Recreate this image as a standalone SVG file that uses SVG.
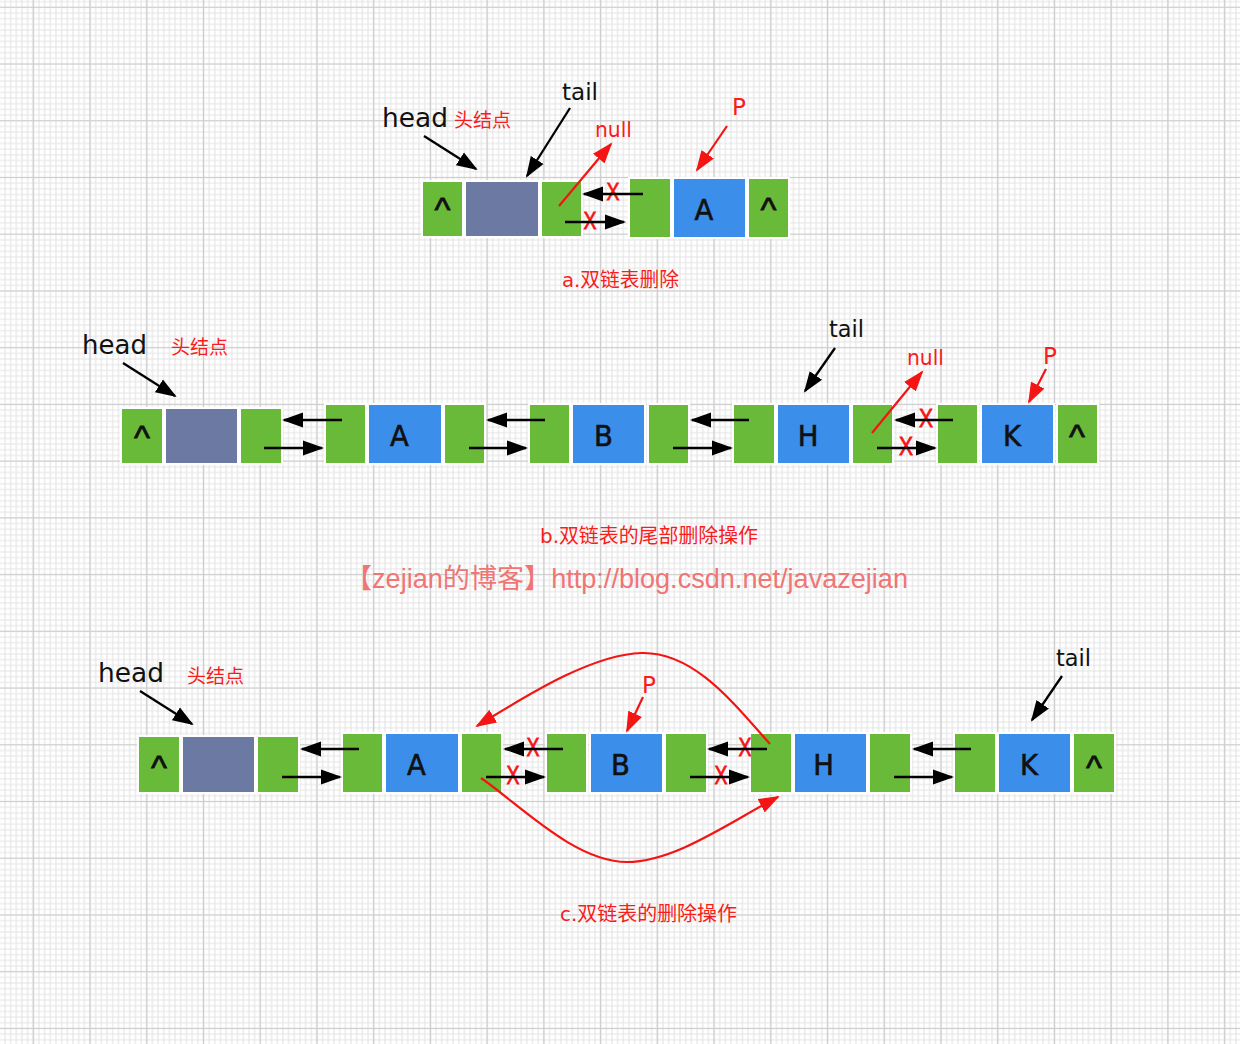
<svg xmlns="http://www.w3.org/2000/svg" width="1240" height="1044" viewBox="0 0 1240 1044">
<defs>
<pattern id="minor" patternUnits="userSpaceOnUse" x="30.46" y="4.46" width="5.673" height="5.673"><path d="M2.836 0V5.673M0 2.836H5.673" stroke="#e4e4e4" stroke-width="1.1" fill="none"/></pattern>
<pattern id="major" patternUnits="userSpaceOnUse" x="4.935" y="-21.065" width="56.73" height="56.73"><path d="M28.365 0V56.73M0 28.365H56.73" stroke="#cdcdcd" stroke-width="1.2" fill="none"/></pattern>
<marker id="ab" markerUnits="userSpaceOnUse" viewBox="0 0 22 16" markerWidth="22" markerHeight="16" refX="19" refY="8" orient="auto"><path d="M0,0.5 L21,8 L0,15.5 z" fill="#000"/></marker>
<marker id="ar" markerUnits="userSpaceOnUse" viewBox="0 0 22 16" markerWidth="22" markerHeight="16" refX="19" refY="8" orient="auto"><path d="M0,0.5 L21,8 L0,15.5 z" fill="#f41414"/></marker>
<style>
.g{fill:#6aba3a;stroke:#fff;stroke-width:2}
.b{fill:#3b8ee9;stroke:#fff;stroke-width:2}
.h{fill:#6c7aa3;stroke:#fff;stroke-width:2}
.t{font-family:"DejaVu Sans","Noto Sans CJK SC",sans-serif;fill:#111}
.red{fill:#f81c1c}
.cl{font-family:"DejaVu Sans",sans-serif;font-size:27.5px;fill:#111;stroke:#111;stroke-width:0.6;text-anchor:middle}
.ct{font-family:"Liberation Sans",sans-serif;font-size:34px;fill:#111;stroke:#111;stroke-width:0.8;text-anchor:middle}
.x{font-family:"Liberation Sans",sans-serif;fill:#f41414;stroke:#f41414;stroke-width:0.8;text-anchor:middle}
.ka{fill:none;stroke:#000;stroke-width:2.3;marker-end:url(#ab)}
.ra{fill:none;stroke:#f41414;stroke-width:2.2;marker-end:url(#ar)}
.cap{font-family:"DejaVu Sans","Noto Sans CJK SC",sans-serif;font-size:20px;fill:#f81c1c}
</style>
</defs>
<rect x="0" y="0" width="1240" height="1044" fill="#fff"/>
<rect x="0" y="0" width="1240" height="1044" fill="url(#minor)"/>
<rect x="0" y="0" width="1240" height="1044" fill="url(#major)"/>

<!-- Section a -->
<g id="a-head">
<rect class="g" x="422" y="181" width="41" height="56"/>
<rect class="h" x="465" y="181" width="74" height="56"/>
<rect class="g" x="541" y="181" width="41" height="56"/>
<text class="ct" x="442.5" y="221">^</text>
</g>
<g id="a-A">
<rect class="g" x="629" y="178" width="42" height="60"/>
<rect class="b" x="673" y="178" width="73" height="60"/>
<rect class="g" x="748" y="178" width="41" height="60"/>
<text class="cl" x="704" y="220">A</text>
<text class="ct" x="768.5" y="221">^</text>
</g>
<g id="a-labels">
<text class="t" x="382" y="127" font-size="26" textLength="66" lengthAdjust="spacingAndGlyphs">head</text>
<text class="t red" x="454" y="127" font-size="19">头结点</text>
<text class="t" x="562" y="100" font-size="23" textLength="36" lengthAdjust="spacingAndGlyphs">tail</text>
<text class="t red" x="595" y="137" font-size="21" textLength="37" lengthAdjust="spacingAndGlyphs">null</text>
<text class="t red" x="732" y="115" font-size="23">P</text>
<text class="x" x="613" y="200" font-size="24" textLength="13" lengthAdjust="spacingAndGlyphs">X</text>
<text class="x" x="590" y="229" font-size="24" textLength="13" lengthAdjust="spacingAndGlyphs">X</text>
<text class="cap" x="562" y="287" textLength="117" lengthAdjust="spacingAndGlyphs">a.双链表删除</text>
</g>

<!-- Section b -->
<g id="b-head">
<rect class="g" x="121" y="408" width="42" height="56"/>
<rect class="h" x="165" y="408" width="73" height="56"/>
<rect class="g" x="240" y="408" width="42" height="56"/>
<text class="ct" x="142" y="449">^</text>
</g>
<g id="b-A">
<rect class="g" x="325" y="404" width="41" height="60"/>
<rect class="b" x="368" y="404" width="74" height="60"/>
<rect class="g" x="444" y="404" width="41" height="60"/>
<text class="cl" x="399.5" y="446">A</text>
</g>
<g id="b-B">
<rect class="g" x="529" y="404" width="41" height="60"/>
<rect class="b" x="572" y="404" width="73" height="60"/>
<rect class="g" x="648" y="404" width="41" height="60"/>
<text class="cl" x="603.5" y="446">B</text>
</g>
<g id="b-H">
<rect class="g" x="733" y="404" width="42" height="60"/>
<rect class="b" x="777" y="404" width="73" height="60"/>
<rect class="g" x="852" y="404" width="41" height="60"/>
<text class="cl" x="808" y="446">H</text>
</g>
<g id="b-K">
<rect class="g" x="937" y="404" width="41" height="60"/>
<rect class="b" x="981" y="404" width="73" height="60"/>
<rect class="g" x="1057" y="404" width="41" height="60"/>
<text class="cl" x="1012" y="446">K</text>
<text class="ct" x="1077" y="448">^</text>
</g>
<g id="b-labels">
<text class="t" x="82" y="354" font-size="26" textLength="65" lengthAdjust="spacingAndGlyphs">head</text>
<text class="t red" x="171" y="354" font-size="19">头结点</text>
<text class="t" x="829" y="337" font-size="23" textLength="35" lengthAdjust="spacingAndGlyphs">tail</text>
<text class="t red" x="907" y="365" font-size="21" textLength="37" lengthAdjust="spacingAndGlyphs">null</text>
<text class="t red" x="1043" y="364" font-size="23">P</text>
<text class="x" x="926" y="427" font-size="26" textLength="14" lengthAdjust="spacingAndGlyphs">X</text>
<text class="x" x="906" y="455" font-size="26" textLength="14" lengthAdjust="spacingAndGlyphs">X</text>
<text class="cap" x="540" y="543" textLength="218" lengthAdjust="spacingAndGlyphs">b.双链表的尾部删除操作</text>
</g>

<text id="watermark" x="345" y="588" font-family="'Liberation Sans','Noto Sans CJK SC',sans-serif" font-size="27" fill="#f07575" textLength="563" lengthAdjust="spacingAndGlyphs">【zejian的博客】http://blog.csdn.net/javazejian</text>

<!-- Section c -->
<g id="c-head">
<rect class="g" x="138" y="736" width="42" height="57"/>
<rect class="h" x="182" y="736" width="73" height="57"/>
<rect class="g" x="257" y="736" width="42" height="57"/>
<text class="ct" x="159" y="779">^</text>
</g>
<g id="c-A">
<rect class="g" x="342" y="733" width="41" height="60"/>
<rect class="b" x="385" y="733" width="74" height="60"/>
<rect class="g" x="461" y="733" width="41" height="60"/>
<text class="cl" x="416.5" y="775">A</text>
</g>
<g id="c-B">
<rect class="g" x="546" y="733" width="41" height="60"/>
<rect class="b" x="590" y="733" width="73" height="60"/>
<rect class="g" x="665" y="733" width="42" height="60"/>
<text class="cl" x="620.5" y="775">B</text>
</g>
<g id="c-H">
<rect class="g" x="750" y="733" width="42" height="60"/>
<rect class="b" x="794" y="733" width="73" height="60"/>
<rect class="g" x="869" y="733" width="42" height="60"/>
<text class="cl" x="823.5" y="775">H</text>
</g>
<g id="c-K">
<rect class="g" x="954" y="733" width="42" height="60"/>
<rect class="b" x="998" y="733" width="73" height="60"/>
<rect class="g" x="1073" y="733" width="42" height="60"/>
<text class="cl" x="1029" y="775">K</text>
<text class="ct" x="1094" y="779">^</text>
</g>
<g id="c-labels">
<text class="t" x="98" y="682" font-size="26" textLength="66" lengthAdjust="spacingAndGlyphs">head</text>
<text class="t red" x="187" y="683" font-size="19">头结点</text>
<text class="t red" x="642" y="693" font-size="23">P</text>
<text class="t" x="1056" y="666" font-size="23" textLength="35" lengthAdjust="spacingAndGlyphs">tail</text>
<text class="x" x="533" y="756" font-size="26" textLength="13" lengthAdjust="spacingAndGlyphs">X</text>
<text class="x" x="513" y="784" font-size="26" textLength="13" lengthAdjust="spacingAndGlyphs">X</text>
<text class="x" x="745" y="756" font-size="26" textLength="13" lengthAdjust="spacingAndGlyphs">X</text>
<text class="x" x="721" y="784" font-size="26" textLength="13" lengthAdjust="spacingAndGlyphs">X</text>
<text class="cap" x="560" y="921" textLength="177" lengthAdjust="spacingAndGlyphs">c.双链表的删除操作</text>
</g>

<g id="connectors">
<!-- a -->
<path class="ka" d="M424,136 L476,169"/>
<path class="ka" d="M570,108 L527,176"/>
<path class="ra" d="M559,206 L611,144"/>
<path class="ra" d="M727,126 L697,170"/>
<path class="ka" d="M643,194 L584,194"/>
<path class="ka" d="M565,222 L624,222"/>
<!-- b -->
<path class="ka" d="M123,363 L175,396"/>
<path class="ka" d="M835,348 L805,391"/>
<path class="ra" d="M872,433 L922,372"/>
<path class="ra" d="M1046,369 L1029,402"/>
<path class="ka" d="M342,420 L284,420"/>
<path class="ka" d="M264,448 L322,448"/>
<path class="ka" d="M545,420 L488,420"/>
<path class="ka" d="M469,448 L526,448"/>
<path class="ka" d="M749,420 L692,420"/>
<path class="ka" d="M673,448 L731,448"/>
<path class="ka" d="M953,420 L896,420"/>
<path class="ka" d="M877,448 L935,448"/>
<!-- c -->
<path class="ka" d="M140,691 L192,724"/>
<path class="ra" d="M643,697 L627,731"/>
<path class="ka" d="M1062,676 L1032,720"/>
<path class="ka" d="M359,749 L302,749"/>
<path class="ka" d="M282,777 L340,777"/>
<path class="ka" d="M563,749 L505,749"/>
<path class="ka" d="M486,777 L544,777"/>
<path class="ka" d="M767,749 L709,749"/>
<path class="ka" d="M690,777 L748,777"/>
<path class="ka" d="M971,749 L914,749"/>
<path class="ka" d="M894,777 L952,777"/>
<path class="ra" d="M770,744 C735,705 695,652 642,653 C590,654 520,700 477,726"/>
<path class="ra" d="M481,778 C520,805 575,862 627,862 C675,862 730,822 778,797"/>
</g>
</svg>
